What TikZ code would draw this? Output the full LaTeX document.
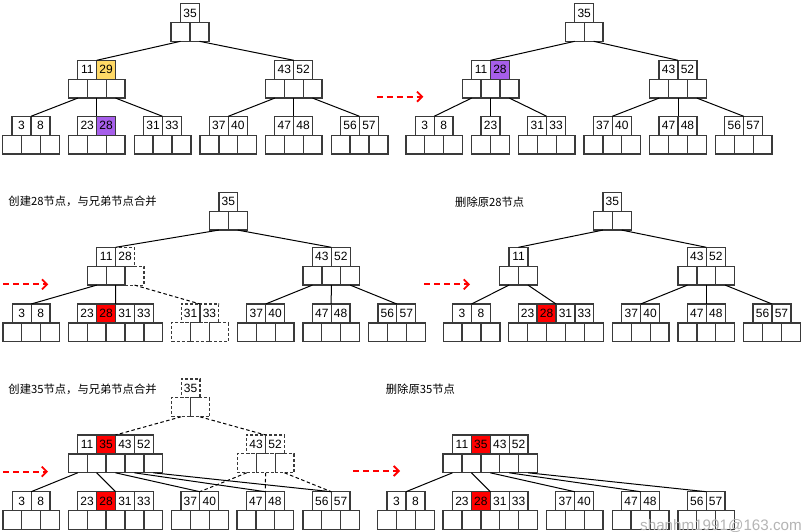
\documentclass[tikz,border=0pt]{standalone}
\usepackage{fontspec}
\setmainfont{Liberation Sans}
\newfontfamily\cjkfont{Noto Sans CJK SC}
\usetikzlibrary{positioning,arrows.meta}
\definecolor{cellgray}{HTML}{3A3A3A}
\definecolor{keygold}{HTML}{FFD966}
\definecolor{keyviolet}{HTML}{A65EEA}
\definecolor{keyred}{HTML}{FF0000}
\definecolor{markgray}{HTML}{B4B4B4}
% b-tree node: [cell style]{name}{x}{y of top}{number of keys}{key/style,...}
\newcommand{\btnode}[6][]{%
  \coordinate (#2) at (#3,#4);
  \foreach \kv/\ks [count=\i] in {#6}
    \node[keycell,#1,\ks] (#2-k\i) at ({#3+(\i-(#5+1)/2)*18.9},{#4+9.45}) {\kv};
  \pgfmathtruncatemacro\np{#5+1}
  \foreach \i in {1,...,\np}
    \node[ptrcell,#1] (#2-p\i) at ({#3+(\i-(\np+1)/2)*18.9},{#4+28.35}) {};
}
\begin{document}
\begin{tikzpicture}[x=1pt,y=-1pt,
  cell/.style={draw=cellgray,line width=1.3pt,minimum width=18.9pt,minimum height=18.9pt,inner sep=0pt,outer sep=0pt},
  keycell/.style={cell,font=\fontsize{12}{12}\selectfont},
  ptrcell/.style={cell},
  dashcell/.style={dash pattern=on 3pt off 2pt,line width=1.1pt},
  nofill/.style={},
  hlgold/.style={fill=keygold},
  hlviolet/.style={fill=keyviolet},
  hlred/.style={fill=keyred},
  link/.style={draw=black,line width=1pt},
  dashlink/.style={link,dash pattern=on 3.5pt off 2.5pt},
  goes/.style={draw=keyred,line width=1.8pt,dash pattern=on 6pt off 4pt,-{Straight Barb[length=5pt,width=10pt]}},
  note/.style={anchor=west,inner sep=0pt,font=\cjkfont\fontsize{11.3}{12}\selectfont}]
\useasboundingbox (0,0) rectangle (803,532);

% step 1
\btnode{a35}{190}{3.5}{1}{35/nofill}
\btnode{a11}{96.7}{60.3}{2}{11/nofill,29/hlgold}
\btnode{a43}{293.7}{60.3}{2}{43/nofill,52/nofill}
\btnode{a3}{31}{116.3}{2}{3/nofill,8/nofill}
\btnode{a23}{96.7}{116.3}{2}{23/nofill,28/hlviolet}
\btnode{a31}{162.5}{116.3}{2}{31/nofill,33/nofill}
\btnode{a37}{228.3}{116.3}{2}{37/nofill,40/nofill}
\btnode{a47}{293.7}{116.3}{2}{47/nofill,48/nofill}
\btnode{a56}{359.5}{116.3}{2}{56/nofill,57/nofill}
\draw[link] (a35-p1.south) -- (a11);
\draw[link] (a35-p2.south) -- (a43);
\foreach \c [count=\i] in {a3,a23,a31} \draw[link] (a11-p\i.south) -- (\c);
\foreach \c [count=\i] in {a37,a47,a56} \draw[link] (a43-p\i.south) -- (\c);
\coordinate (go1a) at (376.7,96.7);
\coordinate (go1b) at (423.3,96.7);
\draw[goes] (go1a) -- (go1b);

% step 2
\btnode{b35}{584.2}{3.5}{1}{35/nofill}
\btnode{b11}{490.5}{60.3}{2}{11/nofill,28/hlviolet}
\btnode{b43}{678}{60.3}{2}{43/nofill,52/nofill}
\btnode{b3}{434.2}{116.3}{2}{3/nofill,8/nofill}
\btnode{b23}{490.5}{116.3}{1}{23/nofill}
\btnode{b31}{546.7}{116.3}{2}{31/nofill,33/nofill}
\btnode{b37}{612.3}{116.3}{2}{37/nofill,40/nofill}
\btnode{b47}{678}{116.3}{2}{47/nofill,48/nofill}
\btnode{b56}{743.7}{116.3}{2}{56/nofill,57/nofill}
\draw[link] (b35-p1.south) -- (b11);
\draw[link] (b35-p2.south) -- (b43);
\foreach \c [count=\i] in {b3,b23,b31} \draw[link] (b11-p\i.south) -- (\c);
\foreach \c [count=\i] in {b37,b47,b56} \draw[link] (b43-p\i.south) -- (\c);

% step 3
\node[note] (say1) at (8.3,201.7) {创建28节点，与兄弟节点合并};
\btnode{c35}{228.3}{192.3}{1}{35/nofill}
\node[keycell,dashcell] (c28) [right=0pt of {(115.65,256.75)}] {28};
\node[ptrcell,dashcell] (c28p) [right=0pt of {(125.1,275.65)}] {};
\btnode{c11}{106.2}{247.3}{1}{11/nofill}
\btnode{c43}{331.3}{247.3}{2}{43/nofill,52/nofill}
\btnode{c3}{31.2}{304}{2}{3/nofill,8/nofill}
\btnode{c23}{115.5}{304}{4}{23/nofill,28/hlred,31/nofill,33/nofill}
\btnode[dashcell]{c31}{200}{304}{2}{31/nofill,33/nofill}
\btnode{c37}{265.7}{304}{2}{37/nofill,40/nofill}
\btnode{c47}{331.2}{304}{2}{47/nofill,48/nofill}
\btnode{c56}{396.8}{304}{2}{56/nofill,57/nofill}
\draw[link] (c35-p1.south) -- (c11-k1.north east);
\draw[link] (c35-p2.south) -- (c43);
\draw[link] (c11-p1.south) -- (c3);
\draw[link] (c11-p2.south) -- (c23);
\draw[dashlink] (c28p.south) -- (c31);
\foreach \c [count=\i] in {c37,c47,c56} \draw[link] (c43-p\i.south) -- (\c);
\coordinate (go2a) at (3,284.3);
\coordinate (go2b) at (48.3,284.3);
\draw[goes] (go2a) -- (go2b);

% step 4
\node[note] (say2) at (455,201.7) {删除原28节点};
\btnode{d35}{612.3}{192.3}{1}{35/nofill}
\btnode{d11}{518.5}{247.3}{1}{11/nofill}
\btnode{d43}{706.3}{247.3}{2}{43/nofill,52/nofill}
\btnode{d3}{471.5}{304}{2}{3/nofill,8/nofill}
\btnode{d23}{556}{304}{4}{23/nofill,28/hlred,31/nofill,33/nofill}
\btnode{d37}{640.7}{304}{2}{37/nofill,40/nofill}
\btnode{d47}{706.3}{304}{2}{47/nofill,48/nofill}
\btnode{d56}{772}{304}{2}{56/nofill,57/nofill}
\draw[link] (d35-p1.south) -- (d11);
\draw[link] (d35-p2.south) -- (d43);
\foreach \c [count=\i] in {d3,d23} \draw[link] (d11-p\i.south) -- (\c);
\foreach \c [count=\i] in {d37,d47,d56} \draw[link] (d43-p\i.south) -- (\c);
\coordinate (go3a) at (424,284.3);
\coordinate (go3b) at (470,284.3);
\draw[goes] (go3a) -- (go3b);

% step 5
\node[note] (say3) at (8.3,389.3) {创建35节点，与兄弟节点合并};
\btnode[dashcell]{e35}{190.5}{379}{1}{35/nofill}
\btnode{e11}{115.5}{435}{4}{11/nofill,35/hlred,43/nofill,52/nofill}
\btnode[dashcell]{e43}{265.6}{435}{2}{43/nofill,52/nofill}
\btnode{e3}{31.2}{491.7}{2}{3/nofill,8/nofill}
\btnode{e23}{115.5}{491.7}{4}{23/nofill,28/hlred,31/nofill,33/nofill}
\btnode{e37}{199.8}{491.7}{2}{37/nofill,40/nofill}
\btnode{e47}{265.3}{491.7}{2}{47/nofill,48/nofill}
\btnode{e56}{331.2}{491.7}{2}{56/nofill,57/nofill}
\draw[dashlink] (e35-p1.south) -- (e11);
\draw[dashlink] (e35-p2.south) -- (e43);
\foreach \c [count=\i] in {e3,e23,e37,e47,e56} \draw[link] (e11-p\i.south) -- (\c);
\foreach \c [count=\i] in {e37,e47,e56} \draw[dashlink] (e43-p\i.south) -- (\c);
\coordinate (go4a) at (3,471.7);
\coordinate (go4b) at (48,471.7);
\draw[goes] (go4a) -- (go4b);

% step 6
\node[note] (say4) at (385.7,389.3) {删除原35节点};
\btnode{f11}{490.3}{435}{4}{11/nofill,35/hlred,43/nofill,52/nofill}
\btnode{f3}{406}{491.7}{2}{3/nofill,8/nofill}
\btnode{f23}{490.3}{491.7}{4}{23/nofill,28/hlred,31/nofill,33/nofill}
\btnode{f37}{574.7}{491.7}{2}{37/nofill,40/nofill}
\btnode{f47}{640.5}{491.7}{2}{47/nofill,48/nofill}
\btnode{f56}{706.2}{491.7}{2}{56/nofill,57/nofill}
\foreach \c [count=\i] in {f3,f23,f37,f47,f56} \draw[link] (f11-p\i.south) -- (\c);
\coordinate (go5a) at (353.3,471);
\coordinate (go5b) at (400,471);
\draw[goes] (go5a) -- (go5b);

\node[anchor=base west,inner sep=0pt,text=markgray,font=\fontsize{15.2}{16}\selectfont] (mark) at (640,530) {shanhm1991@163.com};
\end{tikzpicture}
\end{document}
